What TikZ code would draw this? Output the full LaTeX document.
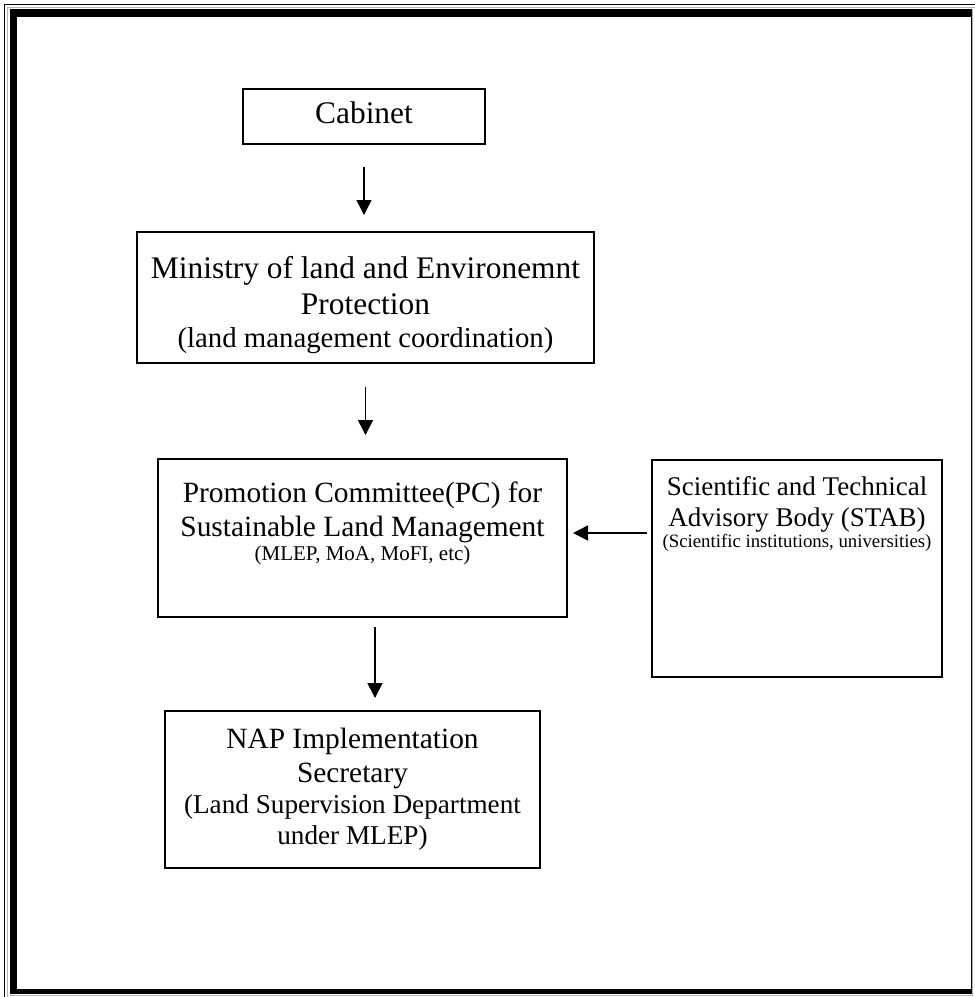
\documentclass[tikz,border=0pt]{standalone}
\usepackage{fontspec}
\setmainfont{Liberation Serif}
\usepackage{tikz}
\usetikzlibrary{arrows.meta}

\tikzset{
    unit/.style={draw, line width=1pt, inner sep=0pt, outer sep=0pt},
    flow/.style={line width=0.75pt, -{Triangle[width=7.5pt,length=7.5pt]}},
}
% width, height, first baseline from top, text
\newcommand{\unittext}[4]{\parbox[c][#2][t]{#1}{\centering\rule{0pt}{#3}#4\par}}
\newcommand{\headsize}{\fontsize{15.7}{18}\selectfont}
\newcommand{\mainsize}{\fontsize{14.7}{17}\selectfont}
\newcommand{\stabsize}{\fontsize{13.5}{15.5}\selectfont}
\newcommand{\notesize}{\fontsize{14.4}{16.6}\selectfont}
\newcommand{\napnotesize}{\fontsize{13.6}{15.6}\selectfont}
\newcommand{\pcnotesize}{\fontsize{10.5}{12}\selectfont}
\newcommand{\stabnotesize}{\fontsize{9.4}{10.8}\selectfont}

\begin{document}
\begin{tikzpicture}[x=0.5pt, y=-0.5pt]
    \useasboundingbox (0,0) rectangle (975,997);
    % page border
    \draw [line width=0.5pt] (4.8,997) -- (4.8,4.8) -- (975,4.8);
    \draw [gray!60, line width=0.5pt] (7.3,997) -- (7.3,7.3) -- (975,7.3);
    \fill (10,9) rectangle (972,17);
    \fill (10,9) rectangle (17,994);
    \fill (10,989) rectangle (972,994);
    \fill (970.5,9) rectangle (972,994);
    \draw [gray!60, line width=0.5pt] (972.5,9) -- (972.5,995) -- (10,995);

    \node [unit] (cabinet) at (364,116.5)
        {\unittext{121pt}{27.5pt}{17pt}{\headsize Cabinet}};
    \node [unit] (ministry) at (365.5,297.5)
        {\unittext{228.5pt}{65.5pt}{23pt}{\headsize Ministry of land and Environemnt\par Protection\par
            \notesize(land management coordination)}};
    \node [unit] (pc) at (362.5,538)
        {\unittext{204.5pt}{79pt}{21.5pt}{\mainsize Promotion Committee(PC) for\par Sustainable Land Management\par
            \pcnotesize(MLEP, MoA, MoFI, etc)}};
    \node [unit] (stab) at (797,568.5)
        {\unittext{145pt}{108.5pt}{17.5pt}{\stabsize Scientific and Technical\par Advisory Body (STAB)\par
            \stabnotesize(Scientific institutions, universities)}};
    \node [unit] (nap) at (352.5,789.5)
        {\unittext{187.5pt}{78.5pt}{18.5pt}{\mainsize NAP Implementation\par Secretary\par
            \napnotesize(Land Supervision Department\par under MLEP)}};
    \coordinate (napin) at ([xshift=11.25pt]nap.north);

    \draw [flow, shorten <=11.5pt, shorten >=8.5pt] (cabinet.south) -- (cabinet.south |- ministry.north);
    \draw [flow, shorten <=12pt, shorten >=12pt] (ministry.south) -- (ministry.south |- pc.north);
    \draw [flow, shorten <=2.5pt, shorten >=3pt] ([yshift=2.5pt]pc.east -| stab.west) -- ([yshift=2.5pt]pc.east);
    \draw [flow, shorten <=5pt, shorten >=6.5pt] (napin |- pc.south) -- (napin);
\end{tikzpicture}
\end{document}
